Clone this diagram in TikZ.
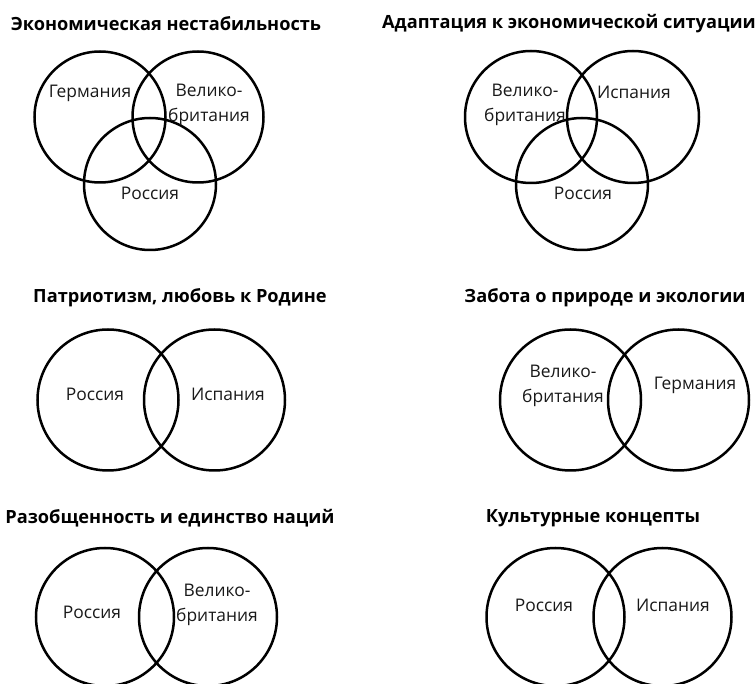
\documentclass[tikz,border=0pt]{standalone}
\usepackage{fontspec}
\setmainfont{Open Sans}
\begin{document}
\begin{tikzpicture}[x=1pt,y=-1pt,
  venn/.style={circle,draw=black,line width=2.5pt,inner sep=0pt,minimum size=#1},
  ttl/.style={font=\fontsize{18.2}{21}\selectfont\bfseries,inner sep=0pt},
  lbl/.style={font=\fontsize{17.4}{25}\selectfont,inner sep=0pt,align=center,text=black!90}]
\useasboundingbox (0,0) rectangle (756,684);
% Panel 1
\node[ttl] (t1) at (166,24) {Экономическая нестабильность};
\node[venn=131] (c1a) at (100,117) {};
\node[venn=131] (c1b) at (198,117) {};
\node[venn=132] (c1c) at (150,184) {};
\node[lbl] (l1a) at (90,93) {Германия};
\node[lbl] (l1b) at (209,105) {Велико-\\британия};
\node[lbl] (l1c) at (150,193) {Россия};
% Panel 2
\node[ttl] (t2) at (569,24) {Адаптация к экономической ситуации};
\node[venn=132] (c2a) at (531,117) {};
\node[venn=132] (c2b) at (633,117) {};
\node[venn=132] (c2c) at (582,184) {};
\node[lbl] (l2a) at (525,105) {Велико-\\британия};
\node[lbl] (l2b) at (634,92) {Испания};
\node[lbl] (l2c) at (583,193) {Россия};
% Panel 3
\node[ttl] (t3) at (180,298) {Патриотизм, любовь к Родине};
\node[venn=141] (c3a) at (108,400) {};
\node[venn=141] (c3b) at (214.5,400) {};
\node[lbl] (l3a) at (95,394) {Россия};
\node[lbl] (l3b) at (228,394) {Испания};
% Panel 4
\node[ttl] (t4) at (605,298) {Забота о природе и экологии};
\node[venn=141] (c4a) at (570.5,400) {};
\node[venn=141] (c4b) at (678.5,400) {};
\node[lbl] (l4a) at (563,386) {Велико-\\британия};
\node[lbl] (l4b) at (695,385) {Германия};
% Panel 5
\node[ttl] (t5) at (170,518) {Разобщенность и единство наций};
\node[venn=138] (c5a) at (105,617) {};
\node[venn=138] (c5b) at (208,617) {};
\node[lbl] (l5a) at (92,612) {Россия};
\node[lbl] (l5b) at (217,605) {Велико-\\британия};
% Panel 6
\node[ttl] (t6) at (593,518) {Культурные концепты};
\node[venn=138] (c6a) at (555.5,617) {};
\node[venn=138] (c6b) at (662.5,617) {};
\node[lbl] (l6a) at (544,605) {Россия};
\node[lbl] (l6b) at (673,605) {Испания};
\end{tikzpicture}
\end{document}
